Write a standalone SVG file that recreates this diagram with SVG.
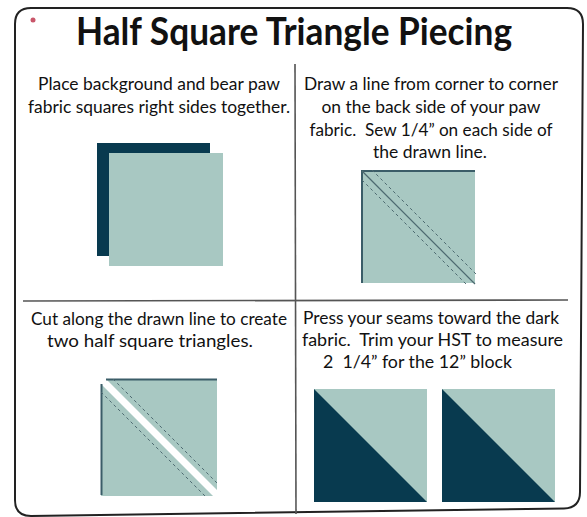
<svg xmlns="http://www.w3.org/2000/svg" width="587" height="517" viewBox="0 0 587 517">
<style>
.t{font-family:Lato,"Open Sans","Liberation Sans",sans-serif;font-size:17.5px;fill:#111;text-anchor:middle;white-space:pre}
.title{font-family:Lato,"Open Sans","Liberation Sans",sans-serif;font-size:38px;font-weight:bold;fill:#111;text-anchor:middle}
.lt{fill:#a8c8c2}
.dk{fill:#083a4f}
.edge{stroke:#3b5d68;stroke-width:2;fill:none}
.seam{stroke:#4d6a70;stroke-width:1.2;fill:none}
.dash{stroke:#4d6a70;stroke-width:1;stroke-dasharray:3 3;fill:none}
.div{stroke:#555;stroke-width:1.6;fill:none}
</style>
<rect width="587" height="517" fill="#fff"/>
<path d="M31,8 H567 Q583,8 583,24 L580,492 Q580,508 564,508.5 L31,516 Q15,516 15,500 V24 Q15,8 31,8 Z" fill="none" stroke="#222" stroke-width="2"/>
<circle cx="33" cy="20" r="2.5" fill="#c9566a"/>
<text class="title" x="294" y="45" textLength="436" lengthAdjust="spacingAndGlyphs">Half Square Triangle Piecing</text>
<g id="dividers">
<line class="div" x1="295" y1="64" x2="296" y2="514"/>
<line class="div" x1="23" y1="301" x2="568" y2="300"/>
</g>
<g id="step1">
<text class="t" x="159" y="90" textLength="242" lengthAdjust="spacingAndGlyphs">Place background and bear paw</text>
<text class="t" x="159" y="113" textLength="262" lengthAdjust="spacingAndGlyphs">fabric squares right sides together.</text>
<rect class="dk" x="97" y="143" width="113" height="113"/>
<rect class="lt" x="109" y="153" width="114" height="113"/>
</g>
<g id="step2">
<text class="t" x="431" y="90" textLength="254" lengthAdjust="spacingAndGlyphs">Draw a line from corner to corner</text>
<text class="t" x="431" y="113" textLength="219" lengthAdjust="spacingAndGlyphs">on the back side of your paw</text>
<text class="t" x="431" y="135.5" textLength="243" lengthAdjust="spacingAndGlyphs">fabric.  Sew 1/4” on each side of</text>
<text class="t" x="430" y="158" textLength="114" lengthAdjust="spacingAndGlyphs">the drawn line.</text>
<rect class="lt" x="362" y="170" width="113" height="113"/>
<path class="edge" d="M362,283 V171 H475"/>
<line class="seam" x1="362" y1="171" x2="475" y2="284"/>
<line class="dash" x1="372" y1="170" x2="477" y2="275"/>
<line class="dash" x1="362" y1="180" x2="466" y2="284"/>
</g>
<g id="step3">
<text class="t" x="159" y="325" textLength="256" lengthAdjust="spacingAndGlyphs">Cut along the drawn line to create</text>
<text class="t" x="150" y="347" textLength="206" lengthAdjust="spacingAndGlyphs">two half square triangles.</text>
<polygon class="lt" points="106,379 217,379 217,490"/>
<polygon class="lt" points="101,384 101,496 213,496"/>
<line class="edge" x1="106" y1="379.5" x2="217" y2="379.5"/>
<line class="edge" x1="101.5" y1="384" x2="101.5" y2="495"/>
<line class="dash" x1="113" y1="379" x2="218" y2="484"/>
<line class="dash" x1="101" y1="392" x2="205" y2="496"/>
</g>
<g id="step4">
<text class="t" x="431" y="324" textLength="256" lengthAdjust="spacingAndGlyphs">Press your seams toward the dark</text>
<text class="t" x="432.5" y="346" textLength="261" lengthAdjust="spacingAndGlyphs">fabric.  Trim your HST to measure</text>
<text class="t" x="417.5" y="368" textLength="189" lengthAdjust="spacingAndGlyphs">2  1/4” for the 12” block</text>
<rect class="lt" x="314" y="389" width="113" height="113"/>
<polygon class="dk" points="314,389 314,502 427,502"/>
<rect class="lt" x="442" y="389" width="113" height="113"/>
<polygon class="dk" points="442,389 442,502 555,502"/>
</g>
</svg>
